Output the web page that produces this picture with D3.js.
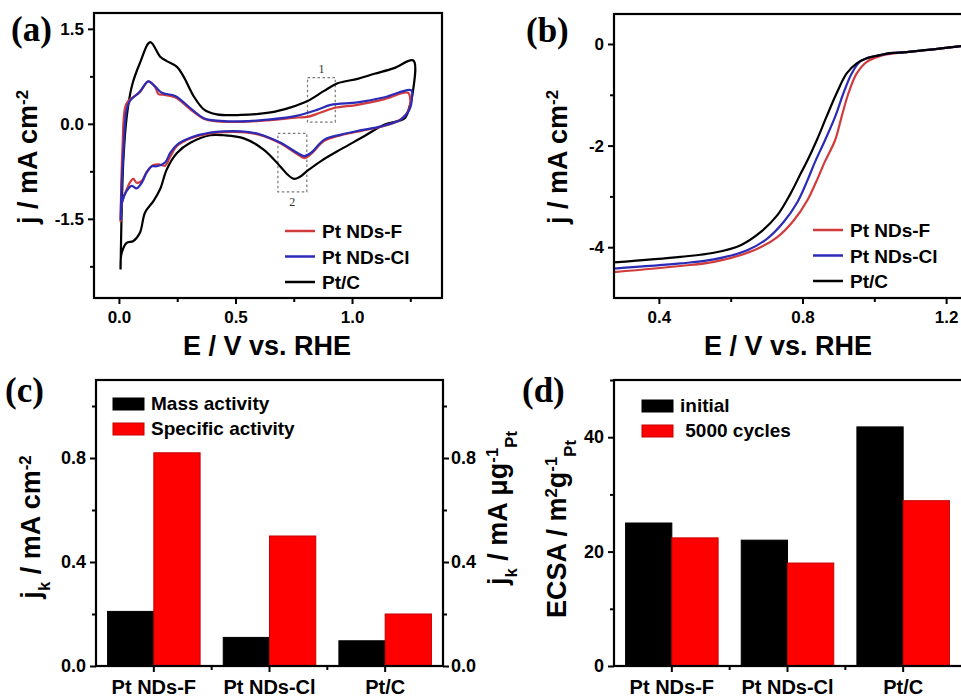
<!DOCTYPE html>
<html>
<head>
<meta charset="utf-8">
<script src="https://cdn.jsdelivr.net/npm/d3@7"></script>
<style>
  body { margin: 0; background: #fff; }
  svg text { font-family: "Liberation Sans", Arial, sans-serif; font-weight: bold; fill: #000; }
  svg text.letter { font-family: "Liberation Serif", "Times New Roman", serif; }
  svg text.boxnum { font-family: "Liberation Serif", serif; font-weight: normal; fill: #333; }
</style>
</head>
<body>
<svg id="fig" width="961" height="698"></svg>
<script>
// ---- (a) CV loops, [E / V, j / mA cm-2], anodic then cathodic ----
const cvPtC = [
  [0.007, -2.30], [0.011, -1.50], [0.019, -0.57], [0.033, 0.10], [0.055, 0.59], [0.09, 0.96], [0.134, 1.29],
  [0.177, 1.06], [0.205, 0.99], [0.249, 0.90], [0.277, 0.75], [0.32, 0.44], [0.364, 0.23], [0.42, 0.15],
  [0.522, 0.14], [0.651, 0.18], [0.737, 0.26], [0.809, 0.36], [0.88, 0.52], [0.938, 0.64], [1.024, 0.71],
  [1.096, 0.79], [1.18, 0.88], [1.263, 1.00],
  [1.26, 0.48], [1.247, 0.28], [1.226, 0.09], [1.14, -0.01], [1.05, -0.20], [0.953, -0.40], [0.87, -0.58],
  [0.809, -0.74], [0.775, -0.84], [0.751, -0.87], [0.723, -0.80], [0.694, -0.68], [0.622, -0.41],
  [0.536, -0.23], [0.45, -0.18], [0.392, -0.18], [0.306, -0.30], [0.249, -0.46], [0.205, -0.72],
  [0.177, -1.03], [0.148, -1.22], [0.112, -1.40], [0.09, -1.72], [0.062, -1.85], [0.033, -1.88],
  [0.011, -2.05], [0.007, -2.30]
];
const cvPtNDsF = [
  [0.007, -1.55], [0.010, -0.95], [0.015, -0.40], [0.026, 0.25], [0.04, 0.36], [0.09, 0.50], [0.126, 0.67],
  [0.155, 0.58], [0.17, 0.47], [0.19, 0.46], [0.241, 0.42], [0.306, 0.23], [0.364, 0.08], [0.42, 0.04],
  [0.522, 0.03], [0.65, 0.06], [0.766, 0.10], [0.809, 0.11], [0.86, 0.17], [0.923, 0.25], [1.024, 0.30],
  [1.14, 0.39], [1.24, 0.49],
  [1.25, 0.38], [1.243, 0.22], [1.205, 0.06], [1.12, -0.05], [1.04, -0.11], [0.953, -0.18], [0.881, -0.27],
  [0.823, -0.48], [0.795, -0.54], [0.766, -0.48], [0.694, -0.31], [0.6, -0.17], [0.522, -0.13],
  [0.45, -0.13], [0.392, -0.15], [0.306, -0.23], [0.249, -0.35], [0.22, -0.52], [0.198, -0.66],
  [0.17, -0.64], [0.148, -0.65], [0.119, -0.76], [0.098, -0.90], [0.076, -0.93], [0.062, -0.87],
  [0.048, -0.92], [0.033, -1.04], [0.013, -1.25], [0.007, -1.55]
];
const cvPtNDsCl = [
  [0.007, -1.52], [0.012, -0.95], [0.019, -0.46], [0.033, 0.23], [0.047, 0.36], [0.09, 0.51], [0.126, 0.67],
  [0.155, 0.59], [0.184, 0.49], [0.241, 0.44], [0.306, 0.25], [0.364, 0.09], [0.42, 0.05], [0.522, 0.04],
  [0.65, 0.07], [0.766, 0.13], [0.85, 0.22], [0.909, 0.30], [1.024, 0.34], [1.14, 0.42], [1.254, 0.53],
  [1.257, 0.40], [1.247, 0.23], [1.211, 0.07], [1.125, -0.04], [1.04, -0.10], [0.953, -0.17],
  [0.881, -0.25], [0.823, -0.46], [0.795, -0.51], [0.766, -0.46], [0.694, -0.30], [0.6, -0.16],
  [0.522, -0.12], [0.45, -0.12], [0.392, -0.14], [0.306, -0.22], [0.249, -0.33], [0.22, -0.46],
  [0.198, -0.61], [0.162, -0.67], [0.141, -0.67], [0.119, -0.77], [0.098, -0.93], [0.076, -1.02],
  [0.055, -0.98], [0.033, -1.06], [0.013, -1.24], [0.007, -1.52]
];
// dashed boxes 1 and 2: [Emin, Emax, jmin, jmax]
const cvBoxes = [[0.809, 0.928, 0.026, 0.73], [0.682, 0.806, -1.075, -0.15]];

// ---- (b) LSV, [E / V, j / mA cm-2] ----
const lsvPtNDsF = [
  [0.275, -4.49], [0.46, -4.37], [0.553, -4.29], [0.665, -4.06], [0.73, -3.80], [0.776, -3.47], [0.814, -3.07],
  [0.842, -2.65], [0.862, -2.32], [0.891, -1.89], [0.909, -1.43], [0.928, -0.97], [0.951, -0.58],
  [0.979, -0.35], [1.007, -0.26], [1.03, -0.21], [1.06, -0.18], [1.09, -0.16], [1.17, -0.10], [1.242, -0.04]
];
const lsvPtNDsCl = [
  [0.275, -4.42], [0.46, -4.32], [0.553, -4.24], [0.646, -4.06], [0.702, -3.83], [0.748, -3.50], [0.786, -3.11],
  [0.814, -2.68], [0.835, -2.32], [0.863, -1.89], [0.891, -1.43], [0.914, -0.97], [0.937, -0.58],
  [0.96, -0.35], [0.988, -0.26], [1.016, -0.22], [1.044, -0.18], [1.09, -0.16], [1.17, -0.10], [1.242, -0.04]
];
const lsvPtC = [
  [0.275, -4.30], [0.46, -4.19], [0.553, -4.11], [0.628, -3.96], [0.684, -3.70], [0.73, -3.37], [0.767, -2.94],
  [0.795, -2.55], [0.814, -2.29], [0.84, -1.89], [0.867, -1.43], [0.895, -0.97], [0.923, -0.58],
  [0.951, -0.38], [0.979, -0.28], [1.016, -0.22], [1.044, -0.18], [1.09, -0.16], [1.17, -0.10], [1.242, -0.04]
];

const seriesNames = ["Pt NDs-F", "Pt NDs-Cl", "Pt/C"];

// ---- (c), (d) bars ----
const barCategories = ["Pt NDs-F", "Pt NDs-Cl", "Pt/C"];
const massActivity = [0.21, 0.11, 0.097];
const specificActivity = [0.82, 0.50, 0.20];
const ecsaInitial = [25.0, 22.0, 41.8];
const ecsa5000 = [22.4, 18.0, 28.9];

const red = "#d23b3b", blue = "#2b2bb8";

let svg = d3.select("#fig");
svg.append("rect").attr("width", 961).attr("height", 698).attr("fill", "#fff");

function styleAxis(g, fontSize) {
  g.select(".domain").remove();
  g.selectAll(".tick line").attr("stroke", "#000").attr("stroke-width", 2);
  g.selectAll(".tick text").style("font-size", fontSize + "px");
}

function addAxes(x, y, opt) {
  let r = x.range(), d = y.range();
  let fs = opt.fs || 17;
  let gl = svg.append("g").attr("transform", "translate(" + r[0] + ",0)");
  gl.call(d3.axisLeft(y).tickValues(opt.yMajor).tickSize(6).tickPadding(4).tickFormat(opt.yFmt));
  styleAxis(gl, fs);
  let gm = svg.append("g").attr("transform", "translate(" + r[0] + ",0)");
  gm.call(d3.axisLeft(y).tickValues(opt.yMinor).tickSize(4).tickFormat(""));
  styleAxis(gm, fs);
  if (opt.xMajor) {
    let gb = svg.append("g").attr("transform", "translate(0," + d[0] + ")");
    gb.call(d3.axisBottom(x).tickValues(opt.xMajor).tickSize(6).tickPadding(7).tickFormat(opt.xFmt));
    styleAxis(gb, fs);
    let gbm = svg.append("g").attr("transform", "translate(0," + d[0] + ")");
    gbm.call(d3.axisBottom(x).tickValues(opt.xMinor).tickSize(4).tickFormat(""));
    styleAxis(gbm, fs);
  }
}

function frame(x0, y0, x1, y1) {
  svg.append("rect").attr("x", x0).attr("y", y0).attr("width", x1 - x0).attr("height", y1 - y0)
    .attr("fill", "none").attr("stroke", "#000").attr("stroke-width", 2.2);
}

function richText(t, parts) {
  parts.forEach(function (p) {
    let s = t.append("tspan").text(p[0]);
    if (p[1] === "sup") s.attr("baseline-shift", "super").style("font-size", "62%");
    if (p[1] === "sub") s.attr("baseline-shift", "sub").style("font-size", "62%");
  });
}

function yTitle(x, y, parts) {
  let t = svg.append("text").attr("transform", "translate(" + x + "," + y + ") rotate(-90)")
    .attr("text-anchor", "middle").style("font-size", "27px");
  richText(t, parts);
}

function xTitle(x, y, txt) {
  svg.append("text").attr("x", x).attr("y", y).attr("text-anchor", "middle").style("font-size", "27px").text(txt);
}

function letter(x, y, txt) {
  svg.append("text").attr("class", "letter").attr("x", x).attr("y", y).style("font-size", "35px").text(txt);
}

function lineLegend(x, y, colors) {
  seriesNames.forEach(function (n, i) {
    svg.append("line").attr("x1", x).attr("x2", x + 30).attr("y1", y + i * 25.5).attr("y2", y + i * 25.5)
      .attr("stroke", colors[i]).attr("stroke-width", 2.5);
    svg.append("text").attr("x", x + 37).attr("y", y + i * 25.5 + 7).style("font-size", "19px").text(n);
  });
}

let fmt1 = function (d) { return d.toFixed(1); };

// ================= (a) =================
let xa = d3.scaleLinear().domain([-0.107, 1.386]).range([94, 442]);
let ya = d3.scaleLinear().domain([-2.75, 1.75]).range([298, 13]);
addAxes(xa, ya, { yMajor: [-1.5, 0, 1.5], yMinor: [-2.25, -0.75, 0.75], yFmt: fmt1,
  xMajor: [0, 0.5, 1.0], xMinor: [0.25, 0.75, 1.25], xFmt: fmt1 });

let lineA = d3.line().x(function (d) { return xa(d[0]); }).y(function (d) { return ya(d[1]); })
  .curve(d3.curveCatmullRom.alpha(0.5));

cvBoxes.forEach(function (b) {
  svg.append("rect").attr("x", xa(b[0])).attr("y", ya(b[3])).attr("width", xa(b[1]) - xa(b[0]))
    .attr("height", ya(b[2]) - ya(b[3])).attr("fill", "none").attr("stroke", "#777")
    .attr("stroke-width", 1.2).attr("stroke-dasharray", "2.5,2.5");
});
svg.append("text").attr("class", "boxnum").attr("x", xa((cvBoxes[0][0] + cvBoxes[0][1]) / 2)).attr("y", ya(cvBoxes[0][3]) - 5)
  .attr("text-anchor", "middle").style("font-size", "12px").text("1");
svg.append("text").attr("class", "boxnum").attr("x", xa((cvBoxes[1][0] + cvBoxes[1][1]) / 2)).attr("y", ya(cvBoxes[1][2]) + 14)
  .attr("text-anchor", "middle").style("font-size", "12px").text("2");

[[cvPtC, "#000"], [cvPtNDsF, red], [cvPtNDsCl, blue]].forEach(function (s) {
  svg.append("path").attr("d", lineA(s[0])).attr("fill", "none").attr("stroke", s[1])
    .attr("stroke-width", 2.2).attr("stroke-linejoin", "round");
});
frame(94, 13, 442, 298);
lineLegend(285, 231, [red, blue, "#000"]);
xTitle(267, 355, "E / V vs. RHE");
yTitle(37, 157, [["j / mA cm"], ["-2", "sup"]]);
letter(11, 41, "(a)");

// ================= (b) =================
let xb = d3.scaleLinear().domain([0.275, 1.247]).range([614, 963]);
let yb = d3.scaleLinear().domain([-5, 0.59]).range([298, 14]);
addAxes(xb, yb, { yMajor: [-4, -2, 0], yMinor: [-3, -1], yFmt: function (d) { return String(d); },
  xMajor: [0.4, 0.8, 1.2], xMinor: [0.6, 1.0], xFmt: fmt1 });

let lineB = d3.line().x(function (d) { return xb(d[0]); }).y(function (d) { return yb(d[1]); })
  .curve(d3.curveCatmullRom.alpha(0.5));
[[lsvPtNDsF, red], [lsvPtNDsCl, blue], [lsvPtC, "#000"]].forEach(function (s) {
  svg.append("path").attr("d", lineB(s[0])).attr("fill", "none").attr("stroke", s[1]).attr("stroke-width", 2.2);
});
frame(614, 14, 963, 298);
lineLegend(813, 230, [red, blue, "#000"]);
xTitle(788, 355, "E / V vs. RHE");
yTitle(567, 157, [["j / mA cm"], ["-2", "sup"]]);
letter(526, 42, "(b)");

// ================= bar panels =================
function barPanel(x0, x1, yDomain, v1, v2, opt) {
  let xc = d3.scaleBand().domain(barCategories).range([x0, x1]).paddingInner(0.2).paddingOuter(0.1);
  let xs = d3.scaleBand().domain([0, 1]).range([0, xc.bandwidth()]);
  let y = d3.scaleLinear().domain(yDomain).range([666, 380]);

  addAxes(xc, y, { yMajor: opt.yMajor, yMinor: opt.yMinor, yFmt: opt.yFmt, fs: 18 });

  let gb = svg.append("g").attr("transform", "translate(0,666)");
  gb.call(d3.axisBottom(xc).tickSize(6).tickPadding(8));
  styleAxis(gb, 20);
  let bounds = [xc(barCategories[1]) - xc.step() * 0.1, xc(barCategories[2]) - xc.step() * 0.1];
  bounds.forEach(function (bx) {
    svg.append("line").attr("x1", bx).attr("x2", bx).attr("y1", 666).attr("y2", 670)
      .attr("stroke", "#000").attr("stroke-width", 2);
  });

  [[v1, "#000", "#000"], [v2, "#ff0000", "#c40000"]].forEach(function (s, k) {
    svg.append("g").selectAll("rect").data(s[0]).enter().append("rect")
      .attr("x", function (d, i) { return xc(barCategories[i]) + xs(k); })
      .attr("y", function (d) { return y(d); })
      .attr("width", xs.bandwidth())
      .attr("height", function (d) { return 666 - y(d); })
      .attr("fill", s[1]).attr("stroke", s[2]).attr("stroke-width", 1);
  });

  if (opt.right) {
    let gr = svg.append("g").attr("transform", "translate(" + x1 + ",0)");
    gr.call(d3.axisRight(y).tickValues(opt.yMajor).tickSize(6).tickPadding(2).tickFormat(opt.yFmt));
    styleAxis(gr, 18);
    let grm = svg.append("g").attr("transform", "translate(" + x1 + ",0)");
    grm.call(d3.axisRight(y).tickValues(opt.yMinor).tickSize(4).tickFormat(""));
    styleAxis(grm, 18);
  }
  frame(x0, 380, opt.frameRight || x1, 666);

  opt.legend.forEach(function (n, i) {
    svg.append("rect").attr("x", opt.lx).attr("y", opt.ly + i * 25).attr("width", 31).attr("height", 12)
      .attr("fill", i === 0 ? "#000" : "#ff0000").attr("stroke", i === 0 ? "#000" : "#c40000");
    svg.append("text").attr("x", opt.lx + 38).attr("y", opt.ly + i * 25 + 12).style("font-size", "19px")
      .attr("xml:space", "preserve").text(n);
  });
}

// ================= (c) =================
barPanel(96, 443, [0, 1.1], massActivity, specificActivity, {
  yMajor: [0, 0.4, 0.8], yMinor: [0.2, 0.6, 1.0], yFmt: fmt1, right: true,
  legend: ["Mass activity", "Specific activity"], lx: 113, ly: 398
});
yTitle(40, 527, [["j"], ["k", "sub"], [" / mA cm"], ["-2", "sup"]]);
yTitle(507, 508, [["j"], ["k", "sub"], [" / mA \u03bcg"], ["-1", "sup"], ["Pt", "sub"]]);
letter(5, 402, "(c)");

// ================= (d) =================
barPanel(614, 961, [0, 50], ecsaInitial, ecsa5000, {
  yMajor: [0, 20, 40], yMinor: [10, 30, 50], yFmt: function (d) { return String(d); }, right: false,
  frameRight: 963, legend: ["initial", " 5000 cycles"], lx: 642, ly: 400
});
yTitle(566, 529, [["ECSA / m"], ["2", "sup"], ["g"], ["-1", "sup"], ["Pt", "sub"]]);
letter(522, 402, "(d)");
</script>
</body>
</html>
